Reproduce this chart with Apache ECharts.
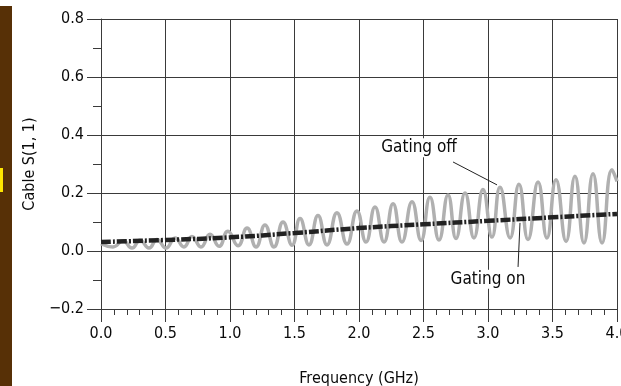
<!DOCTYPE html>
<html>
<head>
<meta charset="utf-8">
<script src="https://cdn.jsdelivr.net/npm/echarts@6/dist/echarts.min.js"></script>
<style>
  html, body { margin: 0; padding: 0; background: #fff; }
  #chart { width: 621px; height: 386px; }
</style>
</head>
<body>
<div id="chart"></div>
<script>
// Values (GHz, S11)
const gatingOffFreq = [
  0.0, 0.093, 0.171, 0.240, 0.302, 0.372, 0.434, 0.504, 0.574, 0.643, 0.705,
  0.775, 0.845, 0.915, 0.984, 1.062, 1.132, 1.202, 1.271, 1.341, 1.411,
  1.481, 1.543, 1.612, 1.682, 1.752, 1.829, 1.907, 1.984, 2.054, 2.124,
  2.194, 2.264, 2.333, 2.411, 2.481, 2.550, 2.620, 2.690, 2.752, 2.822,
  2.891, 2.961, 3.031, 3.093, 3.171, 3.240, 3.310, 3.388, 3.457, 3.527,
  3.605, 3.674, 3.744, 3.814, 3.884, 3.961, 4.0
];
const gatingOffValues = [
  0.025, 0.014, 0.035, 0.010, 0.037, 0.010, 0.040, 0.010, 0.045, 0.014, 0.050,
  0.014, 0.058, 0.016, 0.068, 0.018, 0.079, 0.014, 0.090, 0.014, 0.100,
  0.020, 0.112, 0.021, 0.122, 0.021, 0.132, 0.024, 0.138, 0.031, 0.152,
  0.031, 0.163, 0.031, 0.170, 0.036, 0.185, 0.038, 0.193, 0.043, 0.200,
  0.045, 0.212, 0.048, 0.220, 0.045, 0.230, 0.040, 0.238, 0.045, 0.246,
  0.033, 0.258, 0.028, 0.266, 0.028, 0.280, 0.240
];
const gatingOnFreq = [0.0, 0.5, 1.0, 1.5, 2.0, 2.5, 3.0, 3.5, 4.0];
const gatingOnValues = [0.031, 0.038, 0.047, 0.062, 0.079, 0.092, 0.104, 0.116, 0.128];

// Callout text and leader lines, in data coordinates
const calloutLabels = ['Gating off', 'Gating on'];
const calloutTextPos = [[2.465, 0.356], [3.0, -0.097]];
const calloutLines = [
  [[2.729, 0.307], [3.070, 0.228]],
  [[3.248, 0.097], [3.233, -0.055]]
];

const font = '"Liberation Sans Narrow", "DejaVu Sans Condensed", "Roboto", sans-serif';
const ink = '#0a0a0a';
const gridColor = '#3a3a3a';

const chart = echarts.init(document.getElementById('chart'), null, { renderer: 'canvas' });

chart.setOption({
  backgroundColor: '#fff',
  animation: false,
  textStyle: { fontFamily: font, color: ink },
  graphic: [
    { type: 'rect', shape: { x: 0, y: 6, width: 12, height: 380 }, style: { fill: '#573006' }, silent: true },
    { type: 'rect', shape: { x: 0, y: 168, width: 3, height: 24 }, style: { fill: '#ffe600' }, silent: true }
  ],
  grid: { left: 101, right: 4, top: 19, bottom: 77, containLabel: false, outerBoundsMode: 'none' },
  xAxis: {
    type: 'value',
    min: 0,
    max: 4,
    interval: 0.5,
    name: 'Frequency (GHz)',
    nameLocation: 'middle',
    nameGap: 62,
    nameTextStyle: { fontFamily: font, fontSize: 16, color: ink },
    axisLine: { show: true, onZero: false, lineStyle: { color: gridColor, width: 1 } },
    axisTick: { show: true, length: 13, lineStyle: { color: gridColor } },
    minorTick: { show: true, splitNumber: 5, length: 6, lineStyle: { color: gridColor } },
    axisLabel: {
      fontFamily: font, fontSize: 16, color: ink, margin: 17,
      showMaxLabel: true,
      formatter: v => v.toFixed(1)
    },
    splitLine: { show: true, lineStyle: { color: gridColor, width: 1 } }
  },
  yAxis: {
    type: 'value',
    min: -0.2,
    max: 0.8,
    interval: 0.2,
    name: 'Cable S(1, 1)',
    nameLocation: 'middle',
    nameRotate: 90,
    nameGap: 60,
    nameTextStyle: { fontFamily: font, fontSize: 16, color: ink },
    axisLine: { show: true, onZero: false, lineStyle: { color: gridColor, width: 1 } },
    axisTick: { show: true, length: 14, lineStyle: { color: gridColor } },
    minorTick: { show: true, splitNumber: 2, length: 8, lineStyle: { color: gridColor } },
    axisLabel: {
      fontFamily: font, fontSize: 16, color: ink, margin: 17,
      formatter: v => (v < 0 ? '\u2212' + Math.abs(v).toFixed(1) : v.toFixed(1))
    },
    splitLine: { show: true, lineStyle: { color: gridColor, width: 1 } }
  },
  series: [
    {
      name: 'Gating off',
      type: 'line',
      data: gatingOffFreq.map((f, i) => [f, gatingOffValues[i]]),
      smooth: 0.5,
      showSymbol: false,
      lineStyle: { color: '#b0b0b0', width: 3.5 },
      z: 3
    },
    {
      name: 'Gating on',
      type: 'line',
      data: gatingOnFreq.map((f, i) => [f, gatingOnValues[i]]),
      smooth: true,
      showSymbol: false,
      lineStyle: { color: '#222', width: 4.5, type: [10, 2, 2, 2] },
      z: 4,
      markLine: {
        silent: true,
        symbol: 'none',
        animation: false,
        label: { show: false },
        lineStyle: { color: '#222', width: 1, type: 'solid' },
        data: calloutLines.map(seg => [{ coord: seg[0] }, { coord: seg[1] }])
      },
      markPoint: {
        silent: true,
        symbol: 'circle',
        symbolSize: 0,
        label: {
          show: true,
          position: 'inside',
          fontFamily: font,
          fontSize: 17,
          color: ink,
          backgroundColor: '#fff',
          padding: [1, 2],
          formatter: p => p.name
        },
        data: calloutLabels.map((name, i) => ({ name, coord: calloutTextPos[i] }))
      }
    }
  ]
});
</script>
</body>
</html>
